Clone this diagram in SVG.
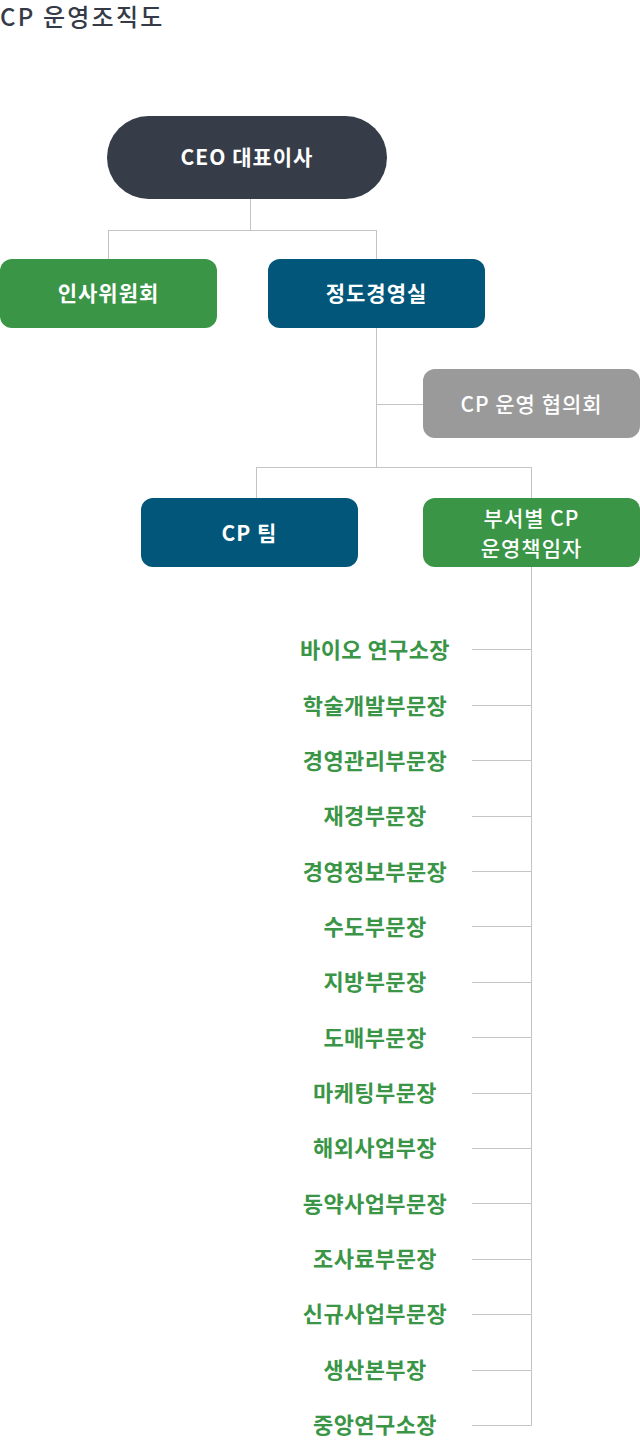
<svg xmlns="http://www.w3.org/2000/svg" width="640" height="1450" viewBox="0 0 640 1450">
<style>
text{font-family:"Noto Sans CJK KR","Noto Sans",sans-serif;text-anchor:middle}
.title{font-size:24px;fill:#353b46;text-anchor:start;font-weight:500;letter-spacing:2.2px}
.bt{font-size:21px;font-weight:700;fill:#ffffff;letter-spacing:1px}
.md{font-weight:500}
.li{font-size:22px;font-weight:700;fill:#3a9547;letter-spacing:0.4px}
.c line{stroke:#c4c4c4;stroke-width:1}
.green{fill:#3a9547}.blue{fill:#02567a}.gray{fill:#9a9a9a}.dark{fill:#363d49}
</style>
<text class="title" x="0" y="26">CP 운영조직도</text>
<g class="c" id="connectors">
<line x1="250.5" y1="198" x2="250.5" y2="230.5"/>
<line x1="108.5" y1="230.5" x2="376.5" y2="230.5"/>
<line x1="108.5" y1="230" x2="108.5" y2="259"/>
<line x1="376.5" y1="230" x2="376.5" y2="259"/>
<line x1="376.5" y1="328" x2="376.5" y2="467.5"/>
<line x1="376.5" y1="404.5" x2="423" y2="404.5"/>
<line x1="256.5" y1="467.5" x2="531.5" y2="467.5"/>
<line x1="256.5" y1="467" x2="256.5" y2="498"/>
<line x1="531.5" y1="467" x2="531.5" y2="498"/>
<line x1="531.5" y1="567" x2="531.5" y2="1425.5"/>
<line x1="472" y1="649.5" x2="531.5" y2="649.5"/>
<line x1="472" y1="705.5" x2="531.5" y2="705.5"/>
<line x1="472" y1="760.5" x2="531.5" y2="760.5"/>
<line x1="472" y1="816.5" x2="531.5" y2="816.5"/>
<line x1="472" y1="871.5" x2="531.5" y2="871.5"/>
<line x1="472" y1="926.5" x2="531.5" y2="926.5"/>
<line x1="472" y1="982.5" x2="531.5" y2="982.5"/>
<line x1="472" y1="1037.5" x2="531.5" y2="1037.5"/>
<line x1="472" y1="1093.5" x2="531.5" y2="1093.5"/>
<line x1="472" y1="1148.5" x2="531.5" y2="1148.5"/>
<line x1="472" y1="1203.5" x2="531.5" y2="1203.5"/>
<line x1="472" y1="1259.5" x2="531.5" y2="1259.5"/>
<line x1="472" y1="1314.5" x2="531.5" y2="1314.5"/>
<line x1="472" y1="1370.5" x2="531.5" y2="1370.5"/>
<line x1="472" y1="1425.5" x2="531.5" y2="1425.5"/>
</g>
<g id="ceo"><rect class="dark" x="107" y="116" width="280" height="83" rx="41.5"/><text class="bt" x="247" y="165">CEO 대표이사</text></g>
<g id="insa"><rect class="green" x="0" y="259" width="217" height="69" rx="12"/><text class="bt" x="108.5" y="301">인사위원회</text></g>
<g id="jeongdo"><rect class="blue" x="268" y="259" width="217" height="69" rx="12"/><text class="bt" x="376.5" y="301">정도경영실</text></g>
<g id="council"><rect class="gray" x="423" y="369" width="217" height="69" rx="12"/><text class="bt md" x="531.5" y="412">CP 운영 협의회</text></g>
<g id="cpteam"><rect class="blue" x="141" y="498" width="217" height="69" rx="12"/><text class="bt" x="249.5" y="541">CP 팀</text></g>
<g id="dept"><rect class="green" x="423" y="498" width="217" height="69" rx="12"/><text class="bt md" x="531.5" y="526">부서별 CP</text><text class="bt md" x="531.5" y="556">운영책임자</text></g>
<g id="list">
<text class="li" x="375" y="658">바이오 연구소장</text>
<text class="li" x="375" y="714">학술개발부문장</text>
<text class="li" x="375" y="769">경영관리부문장</text>
<text class="li" x="375" y="824">재경부문장</text>
<text class="li" x="375" y="880">경영정보부문장</text>
<text class="li" x="375" y="935">수도부문장</text>
<text class="li" x="375" y="990">지방부문장</text>
<text class="li" x="375" y="1046">도매부문장</text>
<text class="li" x="375" y="1101">마케팅부문장</text>
<text class="li" x="375" y="1156">해외사업부장</text>
<text class="li" x="375" y="1212">동약사업부문장</text>
<text class="li" x="375" y="1267">조사료부문장</text>
<text class="li" x="375" y="1322">신규사업부문장</text>
<text class="li" x="375" y="1378">생산본부장</text>
<text class="li" x="375" y="1433">중앙연구소장</text>
</g>
</svg>
